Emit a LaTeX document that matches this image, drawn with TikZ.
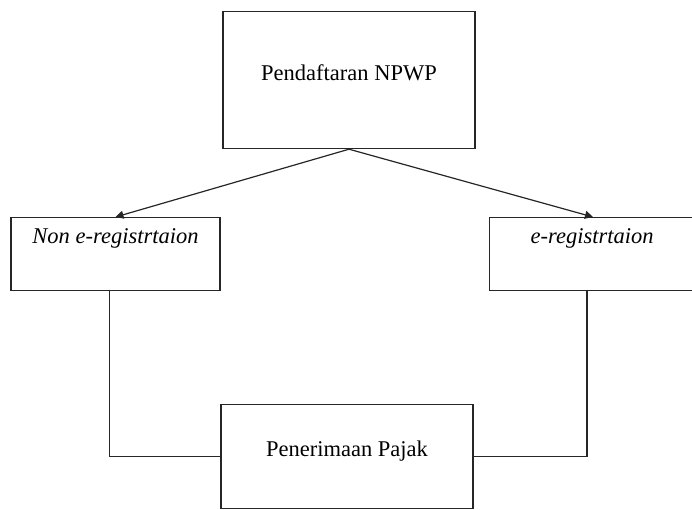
\documentclass[tikz,border=0pt]{standalone}
\usepackage{fontspec}
\setmainfont{Liberation Serif}
\usetikzlibrary{arrows.meta}
\begin{document}
\begin{tikzpicture}[x=1pt,y=-1pt,
  box/.style={draw=black!85,line width=1.2pt,inner sep=0pt,font=\fontsize{22.5}{26}\selectfont},
  conn/.style={draw=black!85,line width=1.2pt},
  arr/.style={conn,-{Triangle[length=8pt,width=8pt]}}]
\useasboundingbox (0,0) rectangle (692,510);
\node[box,text height=69pt,text depth=68pt,anchor=north] (top) at (349,11) {\makebox[252pt]{Pendaftaran NPWP}};
\node[box,text height=26pt,text depth=47pt,anchor=north,font=\fontsize{22.5}{26}\selectfont\itshape] (left) at (115.5,217) {\makebox[209pt]{Non e-registrtaion}};
\node[box,text height=26pt,text depth=47pt,anchor=north west,font=\fontsize{22.5}{26}\selectfont\itshape] (right) at (489,217) {\makebox[210pt]{\hspace{-5pt}e-registrtaion}};
\node[box,text height=52pt,text depth=52pt,anchor=north] (bot) at (347,404) {\makebox[252pt]{Penerimaan Pajak}};
\coordinate (rtip) at (593,217);
\coordinate (rfoot) at (587,290);
\draw[arr] (top.south) -- (left.north);
\draw[arr] (top.south) -- (rtip);
\draw[conn] ([xshift=-6pt]left.south) |- (bot.west);
\draw[conn] (bot.east) -| (rfoot);
\end{tikzpicture}
\end{document}
